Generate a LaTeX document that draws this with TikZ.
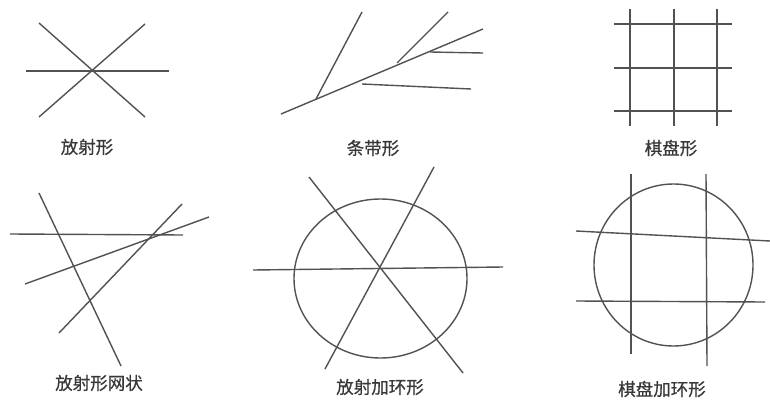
\documentclass[tikz,border=0pt]{standalone}
\usepackage{fontspec}
\newfontfamily\cjk[FakeBold=0.6]{Noto Sans CJK SC}
\begin{document}
\begin{tikzpicture}[x=1pt,y=-1pt,
  ln/.style={draw=black!68,line width=1.4pt},
  lbl/.style={font=\cjk\fontsize{17.5}{20}\selectfont,text=black!78,inner sep=0pt}]
\useasboundingbox[fill=white] (0,0) rectangle (770,401);
% 1 radial
\draw[ln] (26,71) -- (169,71);
\draw[ln] (39,23) -- (145,117);
\draw[ln] (145,24) -- (39,117);
\node[lbl] (l1) at (87,147) {放射形};
% 2 strip
\draw[ln] (281,114) -- (483,29);
\draw[ln] (316,99) -- (362,12);
\draw[ln] (397,63) -- (448,12);
\draw[ln] (430,52) -- (483,53);
\draw[ln] (362,84) -- (471,89);
\node[lbl] (l2) at (373,148) {条带形};
% 3 grid
\foreach \x in {630,674,717} \draw[ln] (\x,9) -- (\x,126);
\foreach \y in {24,68,111} \draw[ln] (614,\y) -- (732,\y);
\node[lbl] (l3) at (671,148) {棋盘形};
% 4 radial net
\draw[ln] (10,234) -- (183,235);
\draw[ln] (39,193) -- (121,366);
\draw[ln] (25,284) -- (209,217);
\draw[ln] (59,333) -- (182,204);
\node[lbl] (l4) at (99,383) {放射形网状};
% 5 radial + ring
\draw[ln] (380.5,278.5) ellipse [x radius=86.5, y radius=79.5];
\draw[ln] (253,270) -- (503,267);
\draw[ln] (309,177) -- (463,373);
\draw[ln] (434,167) -- (325,369);
\node[lbl] (l5) at (380,387) {放射加环形};
% 6 grid + ring
\draw[ln] (673.5,265) ellipse [x radius=79.5, y radius=81];
\draw[ln] (631,174) -- (631,354);
\draw[ln] (706,174) -- (707,366);
\draw[ln] (576,231) -- (770,241);
\draw[ln] (576,301) -- (765,302);
\node[lbl] (l6) at (662,389) {棋盘加环形};
\end{tikzpicture}
\end{document}
